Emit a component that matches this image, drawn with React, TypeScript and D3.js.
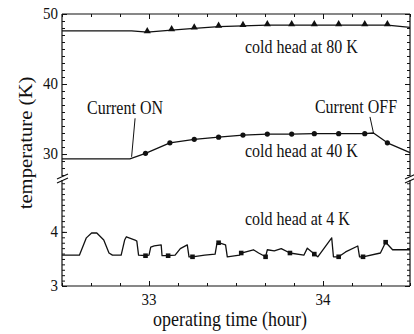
import React, { useEffect, useRef } from 'react';
import * as d3 from 'd3';

type Pt = [number, number];

// tick labels
const timeTicks = [33, 34];
const upperTicks = [30, 40, 50];
const lowerTicks = [3, 4];

// cold head at 80 K: [hour, K]
const head80Line: Pt[] = [
    [32.5, 47.6], [32.9, 47.6], [32.99, 47.4], [33.13, 47.7], [33.26, 47.95], [33.4, 48.2],
    [33.54, 48.3], [33.68, 48.4], [33.82, 48.4], [33.95, 48.4], [34.09, 48.4], [34.24, 48.4],
    [34.37, 48.4], [34.5, 48.1],
];
const head80Marks: Pt[] = [
    [32.99, 47.4], [33.13, 47.7], [33.26, 47.95], [33.4, 48.2], [33.54, 48.3], [33.68, 48.4],
    [33.82, 48.4], [33.95, 48.4], [34.09, 48.4], [34.24, 48.4], [34.37, 48.4],
];

// cold head at 40 K
const head40Line: Pt[] = [
    [32.5, 29.3], [32.89, 29.3], [32.98, 30.1], [33.12, 31.6], [33.26, 32.1], [33.4, 32.4],
    [33.54, 32.7], [33.68, 32.85], [33.82, 32.85], [33.95, 32.9], [34.09, 32.9], [34.24, 32.9],
    [34.29, 33.0], [34.37, 31.6], [34.5, 30.2],
];
const head40Marks: Pt[] = [
    [32.98, 30.1], [33.12, 31.6], [33.26, 32.1], [33.4, 32.4], [33.54, 32.7], [33.68, 32.85],
    [33.82, 32.85], [33.95, 32.9], [34.09, 32.9], [34.24, 32.9], [34.37, 31.6],
];

// cold head at 4 K
const head4Line: Pt[] = [
    [32.5, 3.57], [32.6, 3.57], [32.64, 3.89], [32.67, 3.98], [32.7, 3.98], [32.74, 3.85],
    [32.77, 3.61], [32.79, 3.57], [32.84, 3.57], [32.86, 3.85], [32.87, 3.91], [32.92, 3.85],
    [32.93, 3.83], [32.94, 3.57], [32.98, 3.56], [33.0, 3.57], [33.01, 3.72], [33.03, 3.74],
    [33.07, 3.76], [33.075, 3.56], [33.11, 3.56], [33.15, 3.57], [33.18, 3.69], [33.22, 3.76],
    [33.23, 3.54], [33.25, 3.54], [33.32, 3.57], [33.38, 3.59], [33.39, 3.78], [33.4, 3.8],
    [33.44, 3.76], [33.45, 3.54], [33.52, 3.57], [33.53, 3.61], [33.6, 3.67], [33.63, 3.61],
    [33.67, 3.54], [33.68, 3.67], [33.72, 3.65], [33.76, 3.69], [33.81, 3.61], [33.89, 3.57],
    [33.91, 3.7], [33.95, 3.59], [33.97, 3.54], [34.05, 3.89], [34.06, 3.54], [34.09, 3.54],
    [34.13, 3.63], [34.2, 3.74], [34.21, 3.54], [34.23, 3.54], [34.33, 3.61], [34.36, 3.81],
    [34.4, 3.67], [34.5, 3.67],
];
const head4Marks: Pt[] = [
    [32.98, 3.56], [33.11, 3.56], [33.25, 3.54], [33.4, 3.8], [33.53, 3.61], [33.67, 3.54],
    [33.81, 3.61], [33.95, 3.59], [34.09, 3.54], [34.23, 3.54], [34.36, 3.81],
];

// annotation leader lines (hour, K)
const currentOn: Pt[] = [[32.92, 35.1], [32.9, 29.6]];
const currentOff: Pt[] = [[34.27, 35.3], [34.29, 33.0]];

const App = () => {
    const svgRef = useRef<SVGSVGElement>(null);

    useEffect(() => {
        const svg = d3.select(svgRef.current);
        svg.selectAll('*').remove();

        const width = 414;
        const height = 334;
        const left = 62, right = 410, top = 14, bottom = 286;
        const upperBottom = 176, lowerTop = 180;
        const ink = '#111';
        const font = '"Liberation Serif", "Times New Roman", serif';
        const stretch = 1.15;

        svg.attr('width', width).attr('height', height);
        svg.append('rect').attr('width', width).attr('height', height).attr('fill', '#fff');

        const x = d3.scaleLinear().domain([32.5, 34.5]).range([left, right]);
        const yTop = d3.scaleLinear().domain([26.86, 50]).range([upperBottom, top]);
        const yBot = d3.scaleLinear().domain([3, 4.96]).range([bottom, lowerTop]);

        // ticks (inward)
        const tickAxis = (axis: d3.Axis<d3.NumberValue>, tx: number, ty: number) => {
            const g = svg.append('g').attr('transform', `translate(${tx},${ty})`).call(axis as any);
            g.select('.domain').remove();
            g.selectAll('line').attr('stroke', ink).attr('stroke-width', 1);
            g.selectAll('text').remove();
        };
        const minorX = d3.range(195, 208).map(m => m / 6);
        tickAxis(d3.axisBottom(x).tickValues(minorX).tickSize(-3), 0, bottom);
        tickAxis(d3.axisBottom(x).tickValues(timeTicks).tickSize(-5), 0, bottom);
        tickAxis(d3.axisTop(x).tickValues(minorX).tickSize(-3), 0, top);
        tickAxis(d3.axisTop(x).tickValues(timeTicks).tickSize(-5), 0, top);
        const minorTop = d3.range(27, 51);
        const minorBot = d3.range(30, 50).map(v => v / 10);
        tickAxis(d3.axisLeft(yTop).tickValues(minorTop).tickSize(-3), left, 0);
        tickAxis(d3.axisLeft(yTop).tickValues(upperTicks).tickSize(-5), left, 0);
        tickAxis(d3.axisLeft(yBot).tickValues(minorBot).tickSize(-3), left, 0);
        tickAxis(d3.axisLeft(yBot).tickValues(lowerTicks).tickSize(-5), left, 0);
        tickAxis(d3.axisRight(yTop).tickValues(minorTop).tickSize(-3), right, 0);
        tickAxis(d3.axisRight(yTop).tickValues(upperTicks).tickSize(-5), right, 0);
        tickAxis(d3.axisRight(yBot).tickValues(minorBot).tickSize(-3), right, 0);
        tickAxis(d3.axisRight(yBot).tickValues(lowerTicks).tickSize(-5), right, 0);

        // frame with the axis break
        const frame = svg.append('g').attr('stroke', ink).attr('stroke-width', 1.2).attr('fill', 'none');
        frame.append('path').attr('d', `M${left},${top}H${right}M${left},${bottom}H${right}`);
        frame.append('path').attr('d', `M${left},${top}V${upperBottom}M${left},${lowerTop}V${bottom}`);
        frame.append('path').attr('d', `M${right},${top}V${upperBottom}M${right},${lowerTop}V${bottom}`);
        [left, right].forEach(cx => {
            frame.append('path')
                .attr('d', `M${cx - 5},${upperBottom + 3}L${cx + 6},${upperBottom - 2}M${cx - 5},${lowerTop + 3}L${cx + 6},${lowerTop - 2}`);
        });

        // tick labels
        const label = (txt: string, tx: number, ty: number, size: number, anchor: string) => {
            svg.append('text')
                .attr('transform', `translate(${tx},${ty}) scale(1,${stretch})`)
                .attr('text-anchor', anchor)
                .attr('font-family', font)
                .attr('font-size', size)
                .attr('fill', ink)
                .text(txt);
        };
        upperTicks.forEach(v => label(String(v), 58, yTop(v) + 5, 15, 'end'));
        lowerTicks.forEach(v => label(String(v), 58, yBot(v) + 5, 15, 'end'));
        timeTicks.forEach(v => label(String(v), x(v), 305, 15, 'middle'));

        // axis titles
        label('operating time (hour)', 230, 326, 18, 'middle');
        svg.append('text')
            .attr('transform', `translate(32,143) scale(${1},${stretch}) rotate(-90)`)
            .attr('text-anchor', 'middle')
            .attr('font-family', font)
            .attr('font-size', 18)
            .attr('fill', ink)
            .text('temperature (K)');

        // curves
        const lineTop = d3.line<Pt>().x(d => x(d[0])).y(d => yTop(d[1]));
        const lineBot = d3.line<Pt>().x(d => x(d[0])).y(d => yBot(d[1]));
        const curves = svg.append('g').attr('fill', 'none').attr('stroke', ink).attr('stroke-width', 1.3)
            .attr('stroke-linejoin', 'round');
        curves.append('path').attr('d', lineTop(head80Line));
        curves.append('path').attr('d', lineTop(head40Line));
        curves.append('path').attr('d', lineBot(head4Line));
        curves.append('path').attr('d', lineTop(currentOn)).attr('stroke-width', 1);
        curves.append('path').attr('d', lineTop(currentOff)).attr('stroke-width', 1);

        // markers
        svg.append('g').selectAll('path').data(head80Marks).join('path')
            .attr('d', d3.symbol(d3.symbolTriangle, 22)() as string)
            .attr('transform', d => `translate(${x(d[0])},${yTop(d[1]) - 1})`)
            .attr('fill', ink);
        svg.append('g').selectAll('circle').data(head40Marks).join('circle')
            .attr('cx', d => x(d[0])).attr('cy', d => yTop(d[1])).attr('r', 2.6)
            .attr('fill', ink);
        svg.append('g').selectAll('rect').data(head4Marks).join('rect')
            .attr('x', d => x(d[0]) - 2.3).attr('y', d => yBot(d[1]) - 2.3)
            .attr('width', 4.6).attr('height', 4.6)
            .attr('fill', ink);

        // annotations
        label('cold head at 80 K', 245, 53, 16, 'start');
        label('cold head at 40 K', 245, 157, 16, 'start');
        label('cold head at 4 K', 245, 225, 16, 'start');
        label('Current ON', 125, 114, 16, 'middle');
        label('Current OFF', 356, 113, 16, 'middle');
    }, []);

    return (
        <div>
            <svg ref={svgRef} style={{ position: 'absolute', left: 0, top: 0 }}></svg>
        </div>
    );
};

export default App;
